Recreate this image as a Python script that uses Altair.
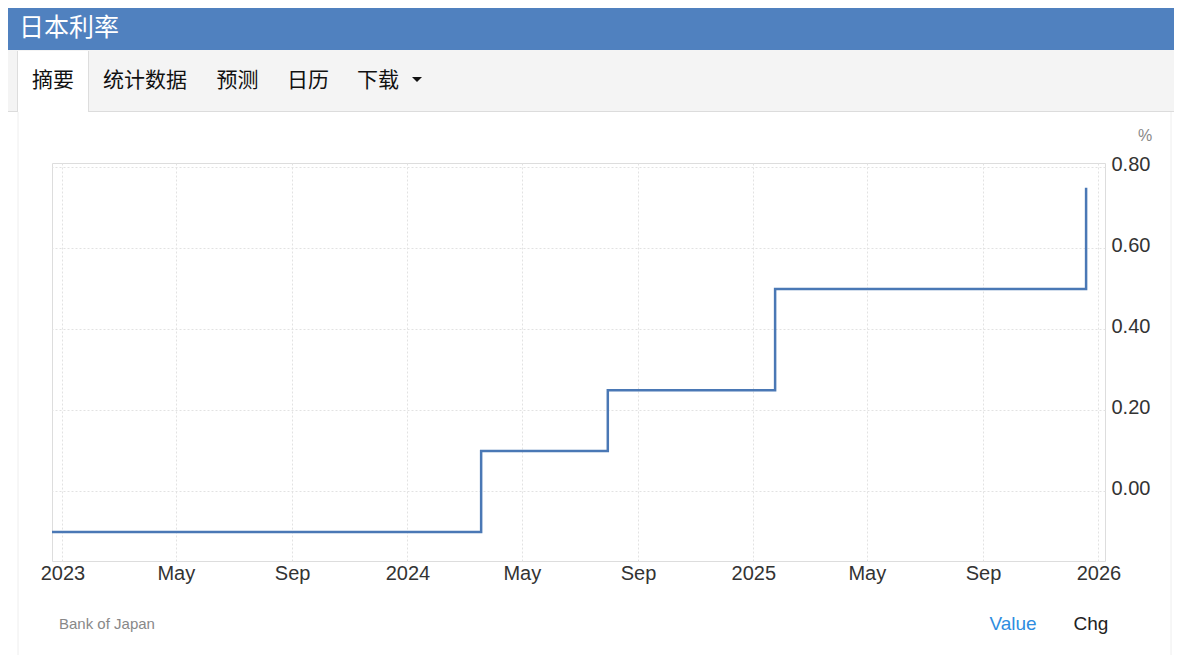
import altair as alt
import pandas as pd

# ---- data ----
change_dates = ["2022-12-20", "2024-03-19", "2024-07-31", "2025-01-24", "2025-12-19"]
rate_values = [-0.10, 0.10, 0.25, 0.50, 0.75]

x_tick_dates = [(2023, 1), (2023, 5), (2023, 9), (2024, 1), (2024, 5), (2024, 9),
                (2025, 1), (2025, 5), (2025, 9), (2026, 1)]
y_tick_values = [0.0, 0.2, 0.4, 0.6, 0.8]

title_text = "日本利率"
tab_labels = ["摘要", "统计数据", "预测", "日历", "下载"]
source_text = "Bank of Japan"
footer_labels = ["Value", "Chg"]
unit_text = "%"

df = pd.DataFrame({"date": pd.to_datetime(change_dates), "value": rate_values})
one = pd.DataFrame({"k": [0]})

LINE_COLOR = "#4a78b5"
HEADER_BLUE = "#5081bf"
AXIS_FONT = "Liberation Sans"
CJK_FONT = "Noto Sans CJK SC"

x_scale = alt.Scale(domain=[alt.DateTime(year=2022, month=12, date=21),
                            alt.DateTime(year=2026, month=1, date=8)])
y_scale = alt.Scale(domain=[-0.1716, 0.811], nice=False, zero=False)

line = alt.Chart(df).mark_line(
    interpolate="step-after", color=LINE_COLOR, strokeWidth=2.5, clip=True
).encode(
    x=alt.X("date:T", scale=x_scale, title=None,
            axis=alt.Axis(values=[alt.DateTime(year=y, month=m, date=1) for y, m in x_tick_dates],
                          labelExpr="month(datum.value) == 0 ? timeFormat(datum.value, '%Y') : timeFormat(datum.value, '%b')",
                          labelFontSize=20, labelColor="#333333", labelFont=AXIS_FONT,
                          labelPadding=2, ticks=False, domain=False, labelOverlap=False,
                          labelFlush=False, grid=True, gridColor="#e2e2e2",
                          gridDash=[2, 2], gridWidth=1)),
    y=alt.Y("value:Q", scale=y_scale, title=None,
            axis=alt.Axis(orient="right", values=y_tick_values, format=".2f",
                          labelFontSize=20, labelColor="#333333", labelFont=AXIS_FONT,
                          labelPadding=6, labelOffset=-2.5, ticks=False, domain=False,
                          grid=True, gridColor="#e2e2e2", gridDash=[2, 2], gridWidth=1)),
)

def rect(x, x2, y, y2, color):
    return alt.Chart(one).mark_rect(color=color, clip=False).encode(
        x=alt.value(x), x2=alt.value(x2), y=alt.value(y), y2=alt.value(y2))

def vrule(x, y, y2, color):
    return alt.Chart(one).mark_rule(color=color, strokeWidth=1, clip=False).encode(
        x=alt.value(x), y=alt.value(y), y2=alt.value(y2))

def hrule(x, x2, y, color):
    return alt.Chart(one).mark_rule(color=color, strokeWidth=1, clip=False).encode(
        x=alt.value(x), x2=alt.value(x2), y=alt.value(y))

def text(t, x, y, size, color, font, align="center"):
    return alt.Chart(one).mark_text(
        align=align, baseline="middle", fontSize=size, color=color, font=font, clip=False
    ).encode(x=alt.value(x), y=alt.value(y), text=alt.value(t))

header = rect(-44, 1122, -155, -113, HEADER_BLUE)
title = text(title_text, -33, -135, 25, "#ffffff", CJK_FONT, align="left")

tabbar = rect(-44, 1122, -113, -52, "#f4f4f4")
tabline = hrule(-44, 1122, -51.5, "#dcdcdc")
active = rect(-34, 36, -112, -51, "#ffffff")
active_l = vrule(-34.5, -112, -51, "#dddddd")
active_r = vrule(36.5, -112, -51, "#dddddd")

tab_x = [1, 93, 185.5, 256, 326]
tabs = [text(t, x, -82, 21, "#111111", CJK_FONT) for t, x in zip(tab_labels, tab_x)]
caret = alt.Chart(one).mark_point(
    shape="M-1,-0.5L1,-0.5L0,0.5Z", size=100, filled=True, color="#111111", opacity=1, clip=False
).encode(x=alt.value(365), y=alt.value(-83.5))

border_l = vrule(-34, -51, 492, "#eeeeee")
border_r = vrule(1119, -51, 492, "#eeeeee")

unit = text(unit_text, 1093, -27, 16, "#888888", AXIS_FONT)
source = text(source_text, 7, 461, 15, "#888888", AXIS_FONT, align="left")
value_lbl = text(footer_labels[0], 961, 461, 19, "#2f8ddf", AXIS_FONT)
chg_lbl = text(footer_labels[1], 1039, 461, 19, "#222222", AXIS_FONT)

chart = alt.layer(
    header, title, tabbar, tabline, active, active_l, active_r, *tabs, caret,
    border_l, border_r, unit, source, value_lbl, chg_lbl, line
).properties(
    width=1053, height=398,
    autosize=alt.AutoSizeParams(type="none"),
    padding={"left": 44, "top": 155, "right": 69, "bottom": 94},
).configure_view(
    stroke="#e6e6e6", strokeWidth=1
).configure(background="#ffffff")

chart.save("out.html", embed_options={"renderer": "svg", "actions": False})
